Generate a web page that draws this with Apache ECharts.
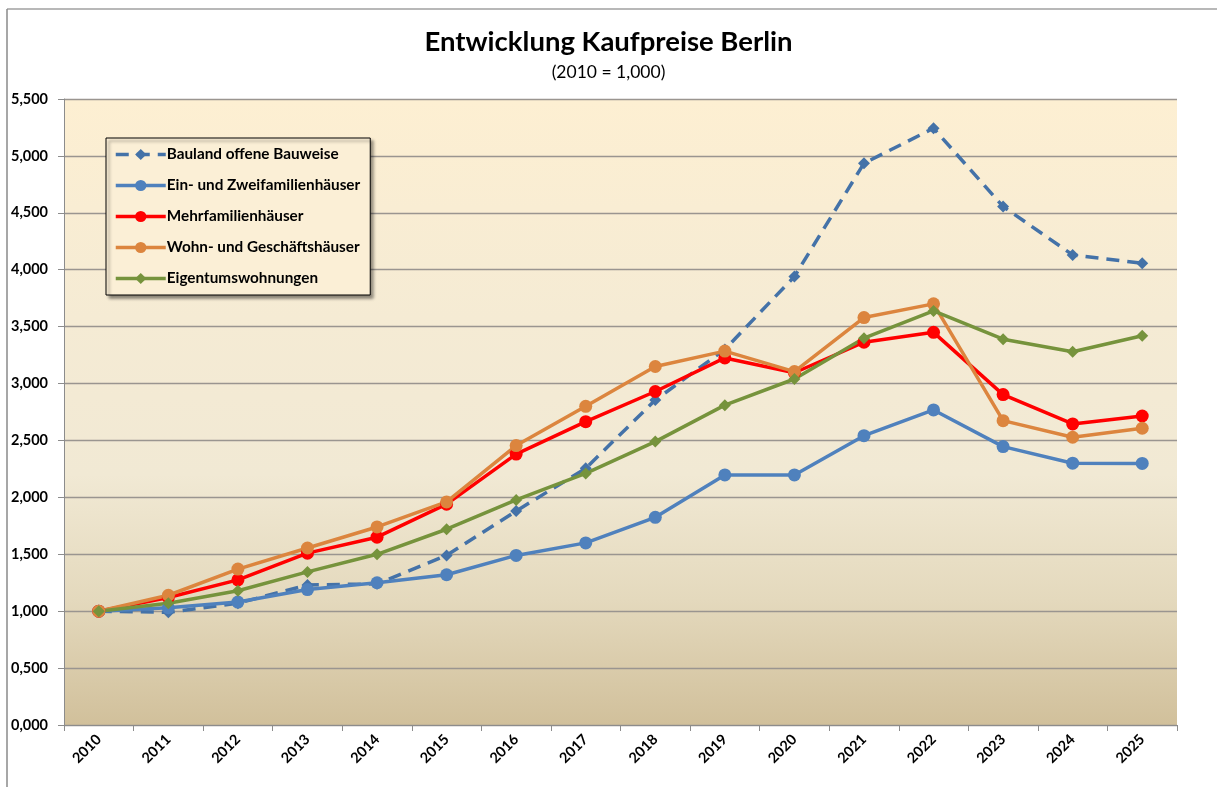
<!DOCTYPE html>
<html><head><meta charset="utf-8">
<script src="https://cdn.jsdelivr.net/npm/echarts@6/dist/echarts.min.js"></script>
<style>html,body{margin:0;padding:0;background:#fff}#c{width:1217px;height:787px}</style>
</head><body><div id="c"></div>
<script>
const years = ['2010','2011','2012','2013','2014','2015','2016','2017','2018','2019','2020','2021','2022','2023','2024','2025'];
const bauland = [1.000,0.990,1.070,1.230,1.240,1.490,1.880,2.255,2.855,3.300,3.940,4.935,5.243,4.555,4.130,4.057];
const einZwei = [1.000,1.030,1.080,1.190,1.250,1.320,1.490,1.600,1.825,2.197,2.197,2.542,2.768,2.446,2.300,2.298];
const mehrfam = [1.000,1.120,1.275,1.510,1.650,1.940,2.380,2.665,2.930,3.225,3.095,3.363,3.450,2.903,2.645,2.715];
const wohnGesch = [1.000,1.140,1.370,1.555,1.740,1.960,2.455,2.800,3.150,3.285,3.105,3.580,3.700,2.674,2.528,2.607];
const eigentum = [1.000,1.070,1.180,1.345,1.500,1.720,1.977,2.210,2.490,2.810,3.040,3.398,3.638,3.390,3.280,3.420];
const names = ['Bauland offene Bauweise','Ein- und Zweifamilienhäuser','Mehrfamilienhäuser','Wohn- und Geschäftshäuser','Eigentumswohnungen'];

const FONT = 'Lato';
function mk(name, data, color, symbol, size, dashed) {
  return {
    name, type: 'line', data, symbol, symbolSize: size,
    lineStyle: { color, width: 3.5, type: dashed ? [13, 8] : 'solid' },
    itemStyle: { color },
    emphasis: { disabled: true },
    z: 3
  };
}
const chart = echarts.init(document.getElementById('c'), null, { renderer: 'canvas' });
chart.setOption({
  animation: false,
  backgroundColor: '#ffffff',
  textStyle: { fontFamily: FONT },
  title: {
    text: 'Entwicklung Kaufpreise Berlin',
    subtext: '(2010 = 1,000)',
    left: 'center', top: 23, itemGap: 7,
    textStyle: { fontFamily: FONT, fontWeight: 'bold', fontSize: 27.5, color: '#000' },
    subtextStyle: { fontFamily: FONT, fontSize: 17.5, color: '#000' }
  },
  graphic: [
    { type: 'line', shape: { x1: 7, y1: 9, x2: 1217, y2: 9 }, style: { stroke: '#a0a0a0', lineWidth: 1.5 }, silent: true },
    { type: 'line', shape: { x1: 7, y1: 9, x2: 7, y2: 787 }, style: { stroke: '#8a8a8a', lineWidth: 1.5 }, silent: true }
  ],
  legend: {
    data: names,
    orient: 'vertical',
    left: 106, top: 138,
    padding: [9, 10, 9, 8],
    itemGap: 16, itemWidth: 50, itemHeight: 14,
    lineStyle: { width: 3.5 },
    backgroundColor: '#fbefd6',
    borderColor: '#000', borderWidth: 1,
    shadowColor: 'rgba(0,0,0,0.45)', shadowBlur: 3, shadowOffsetX: 3, shadowOffsetY: 3,
    textStyle: { fontFamily: FONT, fontWeight: 'bold', fontSize: 15.3, color: '#000', padding: [0, 0, 0, -4] },
    selectedMode: false
  },
  grid: {
    left: 64, right: 40, top: 99, bottom: 62,
    show: true, borderWidth: 0,
    backgroundColor: new echarts.graphic.LinearGradient(0, 0, 0, 1, [
      { offset: 0, color: '#fdefd2' },
      { offset: 0.35, color: '#f5ebd4' },
      { offset: 0.6, color: '#f1e9d4' },
      { offset: 0.8, color: '#e4d9bd' },
      { offset: 1, color: '#d1c09b' }
    ])
  },
  xAxis: {
    type: 'category', data: years, boundaryGap: true,
    axisLine: { show: true, lineStyle: { color: '#8c8c8c', width: 1 } },
    axisTick: { show: true, alignWithLabel: false, length: 6, lineStyle: { color: '#8c8c8c' } },
    axisLabel: { rotate: 45, fontFamily: FONT, fontWeight: 'bold', fontSize: 14.5, color: '#000', margin: 12 },
    splitLine: { show: false }
  },
  yAxis: {
    type: 'value', min: 0, max: 5.5, interval: 0.5,
    axisLine: { show: true, lineStyle: { color: '#8c8c8c', width: 1 } },
    axisTick: { show: true, length: 6, lineStyle: { color: '#8c8c8c' } },
    axisLabel: { fontFamily: FONT, fontWeight: 'bold', fontSize: 14.5, color: '#000', margin: 16,
      formatter: v => v.toFixed(3).replace('.', ',') },
    splitLine: { show: true, lineStyle: { color: '#9a9590', width: 1.3 } }
  },
  series: [
    mk(names[0], bauland, '#4472a8', 'diamond', 12, true),
    mk(names[1], einZwei, '#4f81bd', 'circle', 13, false),
    mk(names[2], mehrfam, '#ff0000', 'circle', 13, false),
    mk(names[3], wohnGesch, '#dc853e', 'circle', 13, false),
    mk(names[4], eigentum, '#76933c', 'diamond', 12, false)
  ]
});
</script></body></html>
